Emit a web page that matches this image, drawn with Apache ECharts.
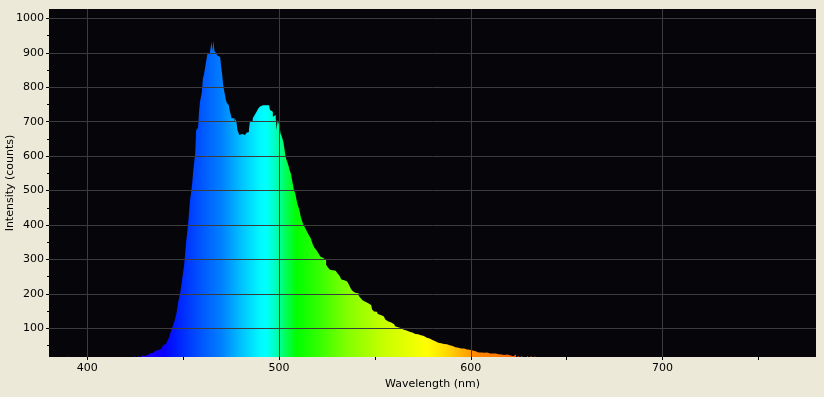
<!DOCTYPE html>
<html><head><meta charset="utf-8">
<script src="https://cdn.jsdelivr.net/npm/echarts@6/dist/echarts.min.js"></script>
<style>html,body{margin:0;padding:0;background:#ECE9D8;}#c{width:824px;height:397px;}</style>
</head><body><div id="c"></div>
<script>
// [wavelength nm, intensity counts]
const violetDots = [[380,0],[389,0],[390,21],[391,0],[409,0],[410,20],[411,0],[424,0]];
const rise = [[425,19],[426,14],[427,20],[428,14],[429,21],[430,20],[431,23],[432,25],[433,28],[434,29],[435,32],[436,35],[437,37],[438,40],[439,45],[440,51],[441,55],[442,62],[443,72],[444,90],[445,106],[446,122],[447,145],[448,180],[449,205],[450,245],[451,285],[452,350],[453,400],[454,470],[454.5,500]];
const peak = [[455,525],[455.5,560],[456,584],[456.5,610],[457,676],[457.5,676],[458,682],[458.5,729],[459,758],[459.5,762],[460,787],[460.5,827],[461,835],[461.5,838],[462,869],[462.5,872],[463,901],[463.5,903],[464,895],[464.5,897],[465,932],[465.5,905],[466,935],[466.5,906],[467,910],[467.5,898],[468,892],[468.5,889],[469,888],[469.5,886],[470,860],[470.5,840],[471,811],[471.5,792],[472,790],[472.5,763],[473,754],[473.5,752],[474,748],[474.5,732],[475,730],[475.5,710],[476,710],[476.5,710],[477,700],[477.5,708],[478,700],[478.5,676],[479,676],[479.5,661],[480,661],[480.5,664],[481,666],[481.5,661],[482,661],[482.5,666],[483,668],[483.5,670],[484,670],[484.5,676],[485,700],[485.5,700],[486,703],[486.5,710],[487,713],[487.5,719],[488,719],[488.5,729],[489,730],[489.5,739],[490,740],[490.5,745],[491,748],[491.5,748],[492,751],[492.5,751],[493,748],[493.5,746],[494,745],[494.5,748],[495,748],[495.5,734],[496,734],[496.5,729],[497,714],[497.5,719],[498,719],[498.5,710],[499,676],[499.5,705],[500,705],[500.5,686],[501,666],[501.5,660],[502,656],[502.5,641],[503,622],[503.5,603],[504,590],[504.5,584],[505,575],[505.5,570],[506,555],[506.5,548],[507,530],[507.5,517]];
const tail = [[508,502],[509,490],[510,462],[511,445],[512,420],[513,403],[514,392],[515,381],[516,371],[517,362],[518,345],[519,333],[520,327],[521,318],[522,309],[523,304],[524,299],[525,285],[526,277],[527,270],[528,269],[529,267],[530,264],[531,259],[532,253],[533,242],[534,240],[535,236],[536,231],[537,226],[538,214],[539,208],[540,203],[541,202],[542,195],[543,188],[544,182],[545,177],[546,173],[547,170],[548,168],[549,155],[550,149],[551,148],[552,142],[553,139],[554,135],[555,130],[556,125],[557,120],[558,117],[559,116],[560,112],[561,106],[562,103],[563,101],[564,100],[565,96],[566,94],[567,91],[568,90],[569,88],[570,86],[571,84],[572,83],[573,82],[574,80],[575,78],[576,75],[577,73],[578,71],[579,67],[580,66],[581,63],[582,61],[583,58],[584,57],[585,56],[586,55],[587,54],[588,53],[589,51],[590,49],[591,47],[592,45],[593,44],[594,43],[595,42],[596,42],[597,41],[598,39],[599,38],[600,37],[601,36],[602,34],[603,32],[604,30],[605,30],[606,30],[607,29],[608,30],[609,29],[610,27],[611,27],[612,26],[613,27],[614,25],[615,25],[616,24],[617,23],[618,23],[619,24],[620,22],[621,18],[622,19],[623,24],[624,15],[625,20],[626,14],[627,20],[628,14],[629,14],[630,20],[631,14],[632,20],[633,14],[634,20],[635,0],[780,0]];

const xTicks = [400, 500, 600, 700];
const xMinorTicks = [450, 550, 650, 750];
const yTicks = [100, 200, 300, 400, 500, 600, 700, 800, 900, 1000];
const yMinorTicks = [50, 150, 250, 350, 450, 550, 650, 750, 850, 950];

const X_MIN = 380, X_MAX = 780, Y_MIN = 17, Y_MAX = 1027;

// wavelength -> display colour stops
const spectrumColors = [
  [380,'#7000c0'],[420,'#3000ff'],[440,'#0a00ff'],[447,'#0020ff'],[458,'#0050ff'],
  [470,'#0080ff'],[480,'#00c0ff'],[490,'#00f8ff'],[493,'#00ffff'],[498,'#00ffc0'],
  [503,'#00ff60'],[509,'#00ff00'],[520,'#30ff00'],[535,'#80ff00'],[555,'#c8ff00'],
  [577,'#ffff00'],[586,'#ffe000'],[594,'#ffb800'],[599.9,'#ff9c00'],[600,'#ff8a00'],
  [615,'#ff7a00'],[625,'#ff5000'],[640,'#ff2000'],[780,'#a00000']
];

const data = [].concat(violetDots, rise, peak, tail);
const stops = spectrumColors.map(([w,c]) => ({offset:(w - X_MIN)/(X_MAX - X_MIN), color:c}));

const font = {color:'#000', fontFamily:'DejaVu Sans', fontSize:11};
const plain = v => String(v);
const chart = echarts.init(document.getElementById('c'), null, {renderer:'canvas'});
chart.setOption({
  animation:false,
  backgroundColor:'#ECE9D8',
  grid:{left:49, right:8, top:9, bottom:40, show:true, backgroundColor:'#060509', borderWidth:0,
        containLabel:false, outerBoundsMode:'none'},
  xAxis:[{
    type:'value', min:X_MIN, max:X_MAX, z:5,
    axisLine:{show:false},
    axisTick:{show:true, customValues:xTicks, length:3, lineStyle:{color:'#000'}},
    axisLabel:Object.assign({customValues:xTicks, margin:6, formatter:plain}, font),
    splitLine:{show:true, lineStyle:{color:'#3c3c3c', width:1}},
    name:'Wavelength (nm)', nameLocation:'middle', nameGap:22, nameTextStyle:font
  },{
    type:'value', min:X_MIN, max:X_MAX, position:'bottom',
    axisLine:{show:false},
    axisTick:{show:true, customValues:xMinorTicks, length:3, lineStyle:{color:'#000'}},
    axisLabel:{show:false}, splitLine:{show:false}
  }],
  yAxis:[{
    type:'value', min:Y_MIN, max:Y_MAX, z:5,
    axisLine:{show:false},
    axisTick:{show:true, customValues:yTicks, length:3, lineStyle:{color:'#000'}},
    axisLabel:Object.assign({customValues:yTicks, margin:5, formatter:plain}, font),
    splitLine:{show:true, lineStyle:{color:'#3c3c3c', width:1}},
    name:'Intensity (counts)', nameLocation:'middle', nameGap:33, nameMoveOverlap:false, nameTextStyle:font
  },{
    type:'value', min:Y_MIN, max:Y_MAX, position:'left',
    axisLine:{show:false},
    axisTick:{show:true, customValues:yMinorTicks, length:2, lineStyle:{color:'#000'}},
    axisLabel:{show:false}, splitLine:{show:false}
  }],
  series:[{
    type:'line', xAxisIndex:0, yAxisIndex:0, data:data, step:'middle',
    symbol:'none', showSymbol:false, clip:true, z:2,
    lineStyle:{width:0, opacity:0},
    areaStyle:{color:new echarts.graphic.LinearGradient(0,0,1,0,stops), opacity:1}
  }]
});
</script>
</body></html>
